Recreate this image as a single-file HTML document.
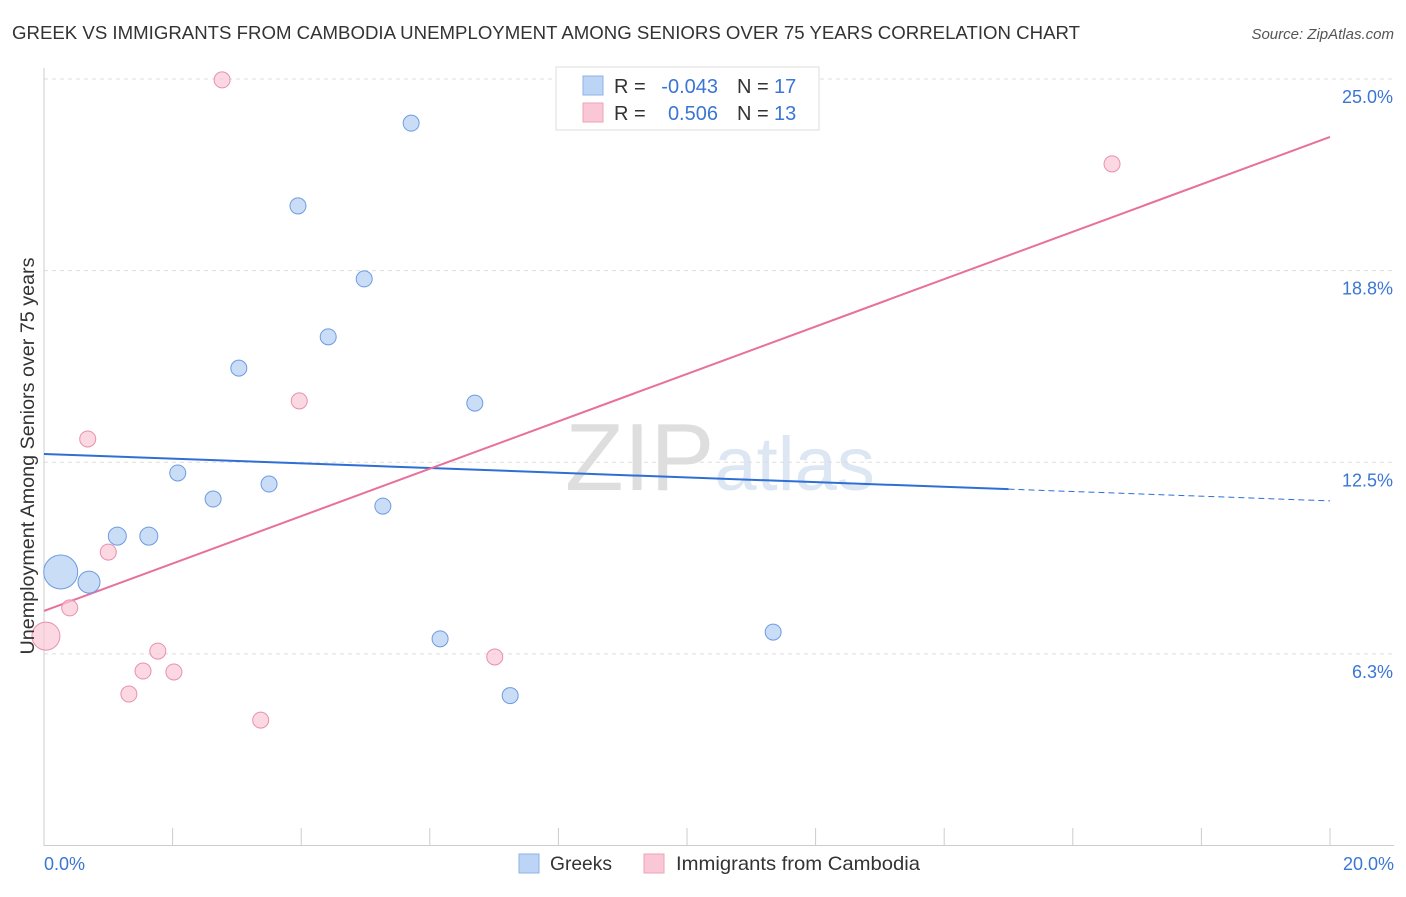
<!DOCTYPE html>
<html><head><meta charset="utf-8"><style>
body{margin:0;background:#fff;font-family:"Liberation Sans",sans-serif}
svg text{font-family:"Liberation Sans",sans-serif}
</style></head><body>
<svg id="chart" width="1406" height="892" viewBox="0 0 1406 892">
<text x="12" y="39" font-size="18.5" fill="#333" textLength="1068" lengthAdjust="spacingAndGlyphs">GREEK VS IMMIGRANTS FROM CAMBODIA UNEMPLOYMENT AMONG SENIORS OVER 75 YEARS CORRELATION CHART</text>
<text x="1394" y="39" font-size="15" fill="#555" text-anchor="end" font-style="italic">Source: ZipAtlas.com</text>
<text x="720" y="490" font-size="96" fill="#dedede" text-anchor="middle" font-family="Liberation Serif"><tspan>ZIP</tspan><tspan fill="#dde6f3" font-family="Liberation Sans" font-size="76">atlas</tspan></text>
<g id="grid"></g><g id="axes"></g><g id="lines"></g><g id="points"></g>
<text transform="translate(34,456) rotate(-90)" font-size="19" fill="#333" text-anchor="middle" textLength="397" lengthAdjust="spacingAndGlyphs">Unemployment Among Seniors over 75 years</text>
<g>
<rect x="556" y="67" width="263" height="63" fill="#fff" stroke="#ddd"/>
<rect x="583" y="76" width="20" height="19" fill="#bcd4f5" stroke="#8fb3e6"/>
<rect x="583" y="103" width="20" height="19" fill="#f9c7d6" stroke="#eea3ba"/>
<text x="614" y="93" font-size="20" fill="#333">R = </text><text x="718" y="93" font-size="20" fill="#3a76d4" text-anchor="end">-0.043</text>
<text x="737" y="93" font-size="20" fill="#333">N = </text><text x="774" y="93" font-size="20" fill="#3a76d4">17</text>
<text x="614" y="120" font-size="20" fill="#333">R = </text><text x="718" y="120" font-size="20" fill="#3a76d4" text-anchor="end">0.506</text>
<text x="737" y="120" font-size="20" fill="#333">N = </text><text x="774" y="120" font-size="20" fill="#3a76d4">13</text>
</g>
<g>
<rect x="519" y="854" width="20" height="19" fill="#bcd4f5" stroke="#8fb3e6"/>
<text x="550" y="870" font-size="19.5" fill="#333" textLength="62" lengthAdjust="spacingAndGlyphs">Greeks</text>
<rect x="644" y="854" width="20" height="19" fill="#f9c7d6" stroke="#eea3ba"/>
<text x="676" y="870" font-size="19.5" fill="#333" textLength="244" lengthAdjust="spacingAndGlyphs">Immigrants from Cambodia</text>
</g>
</svg>
<script>
const yTicks=[25,18.75,12.5,6.25];
const yTickLabels=["25.0%","18.8%","12.5%","6.3%"];
const xTicks=[0,2,4,6,8,10,12,14,16,18,20];
const greekX=[0.26,0.70,1.14,1.63,2.08,2.63,3.03,3.50,3.95,4.42,4.98,5.27,5.71,6.16,6.70,7.25,11.34];
const greekY=[8.92,8.59,10.09,10.09,12.15,11.30,15.57,11.79,20.86,16.59,18.48,11.07,23.56,6.74,14.43,4.89,6.96];
const greekR=[17,11,9,9,8,8,8,8,8,8,8,8,8,8,8,8,8];
const cambX=[0.03,0.40,0.68,1.00,1.32,1.54,1.77,2.02,2.77,3.37,3.97,7.01,16.61];
const cambY=[6.83,7.75,13.26,9.57,4.94,5.69,6.34,5.66,24.97,4.09,14.50,6.15,22.23];
const cambR=[14,8,8,8,8,8,8,8,8,8,8,8,8];
const greekTrend=[12.77,11.24];
const cambTrend=[7.65,23.11];
const NS="http://www.w3.org/2000/svg";
const X=v=>44+(v/20)*1286;
const Y=v=>845.5-v*30.66;
function mk(p,t,a){const e=document.createElementNS(NS,t);for(const k in a)e.setAttribute(k,a[k]);document.getElementById(p).appendChild(e);return e;}
yTicks.forEach((t,i)=>{
 let l=mk('grid','line',{x1:44,x2:1394,y1:Y(t),y2:Y(t),stroke:'#ddd','stroke-dasharray':'4,4'});
 
 
 let tx=mk('grid','text',{x:1393,y:Y(t)+24,'font-size':18,fill:'#3a76d4','text-anchor':'end'});tx.textContent=yTickLabels[i];
 
 
});
mk('axes','line',{x1:44,x2:44,y1:68,y2:846,stroke:'#ccc'});
mk('axes','line',{x1:44,x2:1394,y1:845.5,y2:845.5,stroke:'#ccc'});
xTicks.forEach(t=>{let l=mk('axes','line',{x1:X(t),x2:X(t),y1:828,y2:846,stroke:'#ccc'});
 
 });
let a=mk('axes','text',{x:44,y:870,'font-size':18,fill:'#3a76d4'});a.textContent="0.0%";


let b=mk('axes','text',{x:1394,y:870,'font-size':18,fill:'#3a76d4','text-anchor':'end'});b.textContent="20.0%";


const gAt=x=>greekTrend[0]+(greekTrend[1]-greekTrend[0])*x/20;
let g1=mk('lines','line',{x1:X(0),y1:Y(gAt(0)),x2:X(15),y2:Y(gAt(15)),stroke:'#2e6fd6','stroke-width':2});


let g2=mk('lines','line',{x1:X(15),y1:Y(gAt(15)),x2:X(20),y2:Y(gAt(20)),stroke:'#2e6fd6','stroke-width':1,'stroke-dasharray':'6,4'});


let c1=mk('lines','line',{x1:X(0),y1:Y(cambTrend[0]),x2:X(20),y2:Y(cambTrend[1]),stroke:'#e8709a','stroke-width':2});


greekX.forEach((v,i)=>{let c=mk('points','circle',{cx:X(v),cy:Y(greekY[i]),r:greekR[i],fill:'#bcd4f5','fill-opacity':0.8,stroke:'#6d9be0','stroke-width':1});
 
 });
cambX.forEach((v,i)=>{let c=mk('points','circle',{cx:X(v),cy:Y(cambY[i]),r:cambR[i],fill:'#f9c7d6','fill-opacity':0.7,stroke:'#e890ad','stroke-width':1});
 
 });
</script>
</body></html>
